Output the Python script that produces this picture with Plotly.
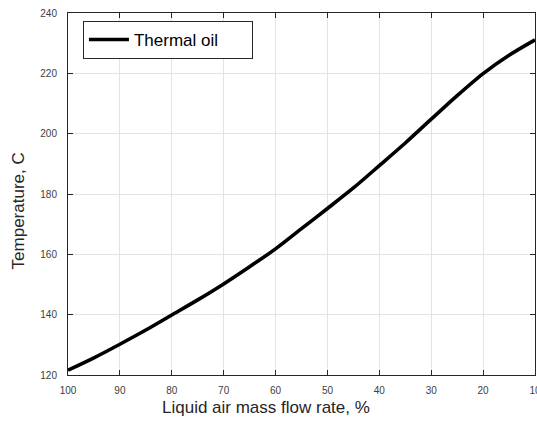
import plotly.graph_objects as go

flow_rate = [100, 95, 90, 85, 80, 75, 70, 65, 60, 55, 50, 45, 40, 35, 30, 25, 20, 15, 10]
temperature = [121.6, 125.7, 130.2, 134.9, 139.9, 144.9, 150.2, 155.9, 161.8, 168.5,
               175.2, 182.0, 189.4, 196.9, 204.8, 212.6, 219.9, 226.0, 231.1]
x_ticks = [100, 90, 80, 70, 60, 50, 40, 30, 20, 10]
y_ticks = [120, 140, 160, 180, 200, 220, 240]

fig = go.Figure()
fig.add_trace(go.Scatter(
    x=flow_rate, y=temperature, mode="lines", name="Thermal oil",
    line=dict(color="black", width=3.6, shape="spline", smoothing=0.8),
))

axis_common = dict(
    showgrid=True, gridcolor="#e3e3e3", gridwidth=1,
    showline=True, linecolor="#262626", linewidth=1, mirror="ticks",
    ticks="inside", ticklen=5, tickcolor="#262626", tickwidth=1,
    tickfont=dict(family="Liberation Sans, Arial, sans-serif", size=10, color="#404040"),
    zeroline=False, ticklabeloverflow="allow", automargin=False,
)

fig.update_layout(
    width=537, height=425,
    margin=dict(l=68, r=2, t=13, b=50),
    plot_bgcolor="white", paper_bgcolor="white",
    font=dict(family="Liberation Sans, Arial, sans-serif", color="#262626"),
    xaxis=dict(range=[100, 10], tickvals=x_ticks, ticktext=[str(v) for v in x_ticks],
               ticklabelstandoff=6, **axis_common),
    yaxis=dict(range=[120, 240], tickvals=y_ticks, ticklabelstandoff=8,
               **axis_common),
    legend=dict(x=0.032, y=0.978, xanchor="left", yanchor="top", orientation="h",
                bgcolor="white", bordercolor="#262626", borderwidth=1,
                font=dict(size=17, color="black"), entrywidth=113,
                itemwidth=40, tracegroupgap=0),
    showlegend=True,
    annotations=[
        dict(text="Temperature, C", xref="paper", yref="paper",
             x=-0.107, y=0.452, xanchor="center", yanchor="middle",
             textangle=-90, showarrow=False,
             font=dict(size=17, color="#262626")),
        dict(text="Liquid air mass flow rate, %", xref="paper", yref="paper",
             x=0.424, y=-0.091, xanchor="center", yanchor="middle",
             showarrow=False, font=dict(size=17, color="#262626")),
    ],
)

fig.write_html("out.html")
